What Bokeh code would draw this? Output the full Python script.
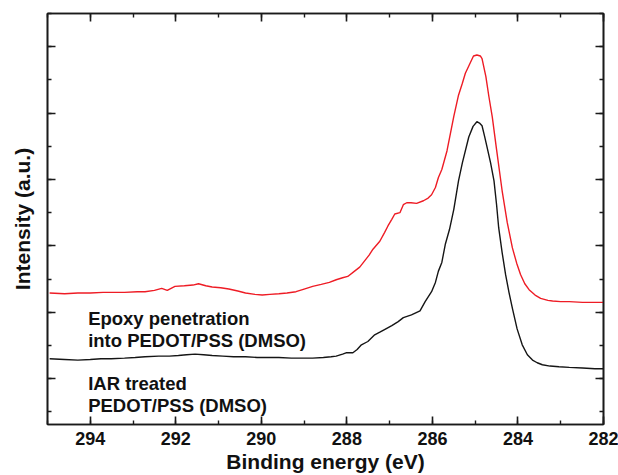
from bokeh.plotting import figure
from bokeh.models import Range1d, LinearAxis, SingleIntervalTicker, Label, CustomJSTickFormatter
from bokeh.embed import file_html
from bokeh.resources import INLINE

# ---- data ----
red_energy = [294.95, 294.6, 294.29, 294.0, 293.7, 293.51, 293.2, 292.9, 292.72, 292.5,
              292.33, 292.2, 292.02, 291.8, 291.6, 291.47, 291.3, 291.15, 290.95, 290.76,
              290.55, 290.37, 290.15, 289.98, 289.8, 289.59, 289.4, 289.19, 289.0, 288.8,
              288.6, 288.41, 288.25, 288.1, 287.98, 287.82, 287.7, 287.59, 287.48, 287.39,
              287.23, 287.12, 287.04, 286.95, 286.88, 286.76, 286.68, 286.6, 286.5, 286.37,
              286.21, 286.1, 286.02, 285.93, 285.86, 285.78, 285.66, 285.5, 285.39, 285.3,
              285.23, 285.12, 285.04, 284.96, 284.88, 284.84, 284.75, 284.68, 284.6, 284.5,
              284.37, 284.25, 284.13, 284.03, 283.94, 283.84, 283.74, 283.6, 283.47, 283.3,
              283.19, 283.0, 282.8, 282.49, 282.2, 282.0]
red_intensity = [2.29, 2.28, 2.29, 2.29, 2.30, 2.30, 2.30, 2.31, 2.31, 2.33,
                 2.36, 2.33, 2.39, 2.40, 2.41, 2.43, 2.40, 2.38, 2.37, 2.35,
                 2.32, 2.29, 2.27, 2.26, 2.27, 2.28, 2.29, 2.31, 2.35, 2.39,
                 2.42, 2.45, 2.49, 2.52, 2.54, 2.62, 2.68, 2.77, 2.86, 2.95,
                 3.07, 3.20, 3.30, 3.40, 3.48, 3.50, 3.62, 3.65, 3.65, 3.64,
                 3.68, 3.72, 3.77, 3.88, 4.03, 4.15, 4.43, 4.95, 5.27, 5.45,
                 5.60, 5.75, 5.86, 5.875, 5.86, 5.82, 5.55, 5.25, 4.94, 4.45,
                 3.83, 3.35, 2.97, 2.74, 2.57, 2.43, 2.34, 2.26, 2.21, 2.18,
                 2.17, 2.16, 2.16, 2.15, 2.15, 2.15]

black_energy = [294.95, 294.6, 294.29, 294.0, 293.75, 293.51, 293.2, 292.95, 292.72, 292.4,
                292.15, 291.94, 291.75, 291.55, 291.35, 291.15, 290.9, 290.65, 290.37, 290.1,
                289.85, 289.59, 289.3, 289.05, 288.8, 288.55, 288.37, 288.25, 288.1, 288.02,
                287.86, 287.76, 287.66, 287.51, 287.35, 287.23, 287.12, 286.95, 286.8, 286.68,
                286.49, 286.29, 286.17, 286.02, 285.93, 285.86, 285.78, 285.7, 285.6, 285.5,
                285.39, 285.3, 285.15, 285.05, 284.96, 284.9, 284.84, 284.78, 284.72, 284.64,
                284.56, 284.5, 284.45, 284.37, 284.29, 284.21, 284.13, 284.02, 283.9, 283.78,
                283.66, 283.55, 283.43, 283.25, 283.04, 282.8, 282.49, 282.2, 282.0]
black_intensity = [1.30, 1.29, 1.28, 1.29, 1.30, 1.30, 1.31, 1.32, 1.33, 1.34,
                   1.34, 1.35, 1.36, 1.37, 1.36, 1.35, 1.34, 1.33, 1.33, 1.32,
                   1.32, 1.32, 1.31, 1.31, 1.31, 1.32, 1.33, 1.34, 1.37, 1.39,
                   1.39, 1.44, 1.51, 1.56, 1.66, 1.70, 1.74, 1.80, 1.86, 1.92,
                   1.96, 2.02, 2.16, 2.31, 2.45, 2.62, 2.75, 3.02, 3.25, 3.55,
                   3.98, 4.25, 4.64, 4.80, 4.87, 4.85, 4.81, 4.65, 4.48, 4.25,
                   3.98, 3.62, 3.27, 2.90, 2.57, 2.30, 2.06, 1.75, 1.51, 1.36,
                   1.28, 1.24, 1.21, 1.19, 1.18, 1.17, 1.16, 1.15, 1.15]

label_lines = ["Epoxy penetration", "into PEDOT/PSS (DMSO)", "IAR treated", "PEDOT/PSS (DMSO)"]
label_x = [294.05, 294.05, 294.05, 294.05]
label_y = [1.90, 1.58, 0.935, 0.597]

x_title = "Binding energy (eV)"
y_title = "Intensity (a.u.)"

FONT = "Liberation Sans"

p = figure(width=618, height=475, output_backend="svg", toolbar_location=None,
           x_range=Range1d(295, 282), y_range=Range1d(0.31, 6.5),
           min_border_left=47, min_border_right=15, min_border_top=13, min_border_bottom=10)
p.background_fill_color = "white"
p.border_fill_color = "white"
p.grid.visible = False
p.outline_line_color = "#1a1a1a"
p.outline_line_width = 1.6

p.line(red_energy, red_intensity, line_color="#ee1c25", line_width=1.4)
p.line(black_energy, black_intensity, line_color="#151515", line_width=1.4)

for t, xx, yy in zip(label_lines, label_x, label_y):
    p.add_layout(Label(x=xx, y=yy, text=t, text_font=FONT, text_font_style="bold",
                       text_font_size="18.5px", text_color="#111111",
                       text_baseline="alphabetic", text_align="left"))

def style_axis(ax, show_labels):
    ax.axis_line_color = "#1a1a1a"
    ax.axis_line_width = 1.6
    ax.major_tick_line_color = "#1a1a1a"
    ax.minor_tick_line_color = "#1a1a1a"
    ax.major_tick_line_width = 1.6
    ax.minor_tick_line_width = 1.4
    ax.major_tick_in = 8
    ax.major_tick_out = 0
    ax.minor_tick_in = 4
    ax.minor_tick_out = 0
    if show_labels:
        ax.major_label_text_font = FONT
        ax.major_label_text_font_style = "bold"
        ax.major_label_text_color = "#111111"
    else:
        ax.formatter = CustomJSTickFormatter(code="return '';")
        ax.major_label_standoff = 0

xb = p.xaxis[0]
xb.ticker = SingleIntervalTicker(interval=2, num_minor_ticks=2)
style_axis(xb, True)
xb.major_label_text_font_size = "18px"
xb.major_label_standoff = 7
xb.axis_label = x_title
xb.axis_label_text_font = FONT
xb.axis_label_text_font_style = "bold"
xb.axis_label_text_font_size = "21px"
xb.axis_label_text_color = "#111111"
xb.axis_label_standoff = 2

yl = p.yaxis[0]
yl.ticker = SingleIntervalTicker(interval=1, num_minor_ticks=2)
style_axis(yl, False)
yl.axis_label = y_title
yl.axis_label_text_font = FONT
yl.axis_label_text_font_style = "bold"
yl.axis_label_text_font_size = "21px"
yl.axis_label_text_color = "#111111"
yl.axis_label_standoff = 14

xt = LinearAxis(ticker=SingleIntervalTicker(interval=2, num_minor_ticks=2))
style_axis(xt, False)
p.add_layout(xt, "above")

yr = LinearAxis(ticker=SingleIntervalTicker(interval=1, num_minor_ticks=2))
style_axis(yr, False)
p.add_layout(yr, "right")

open("out.html", "w").write(file_html(p, INLINE))
